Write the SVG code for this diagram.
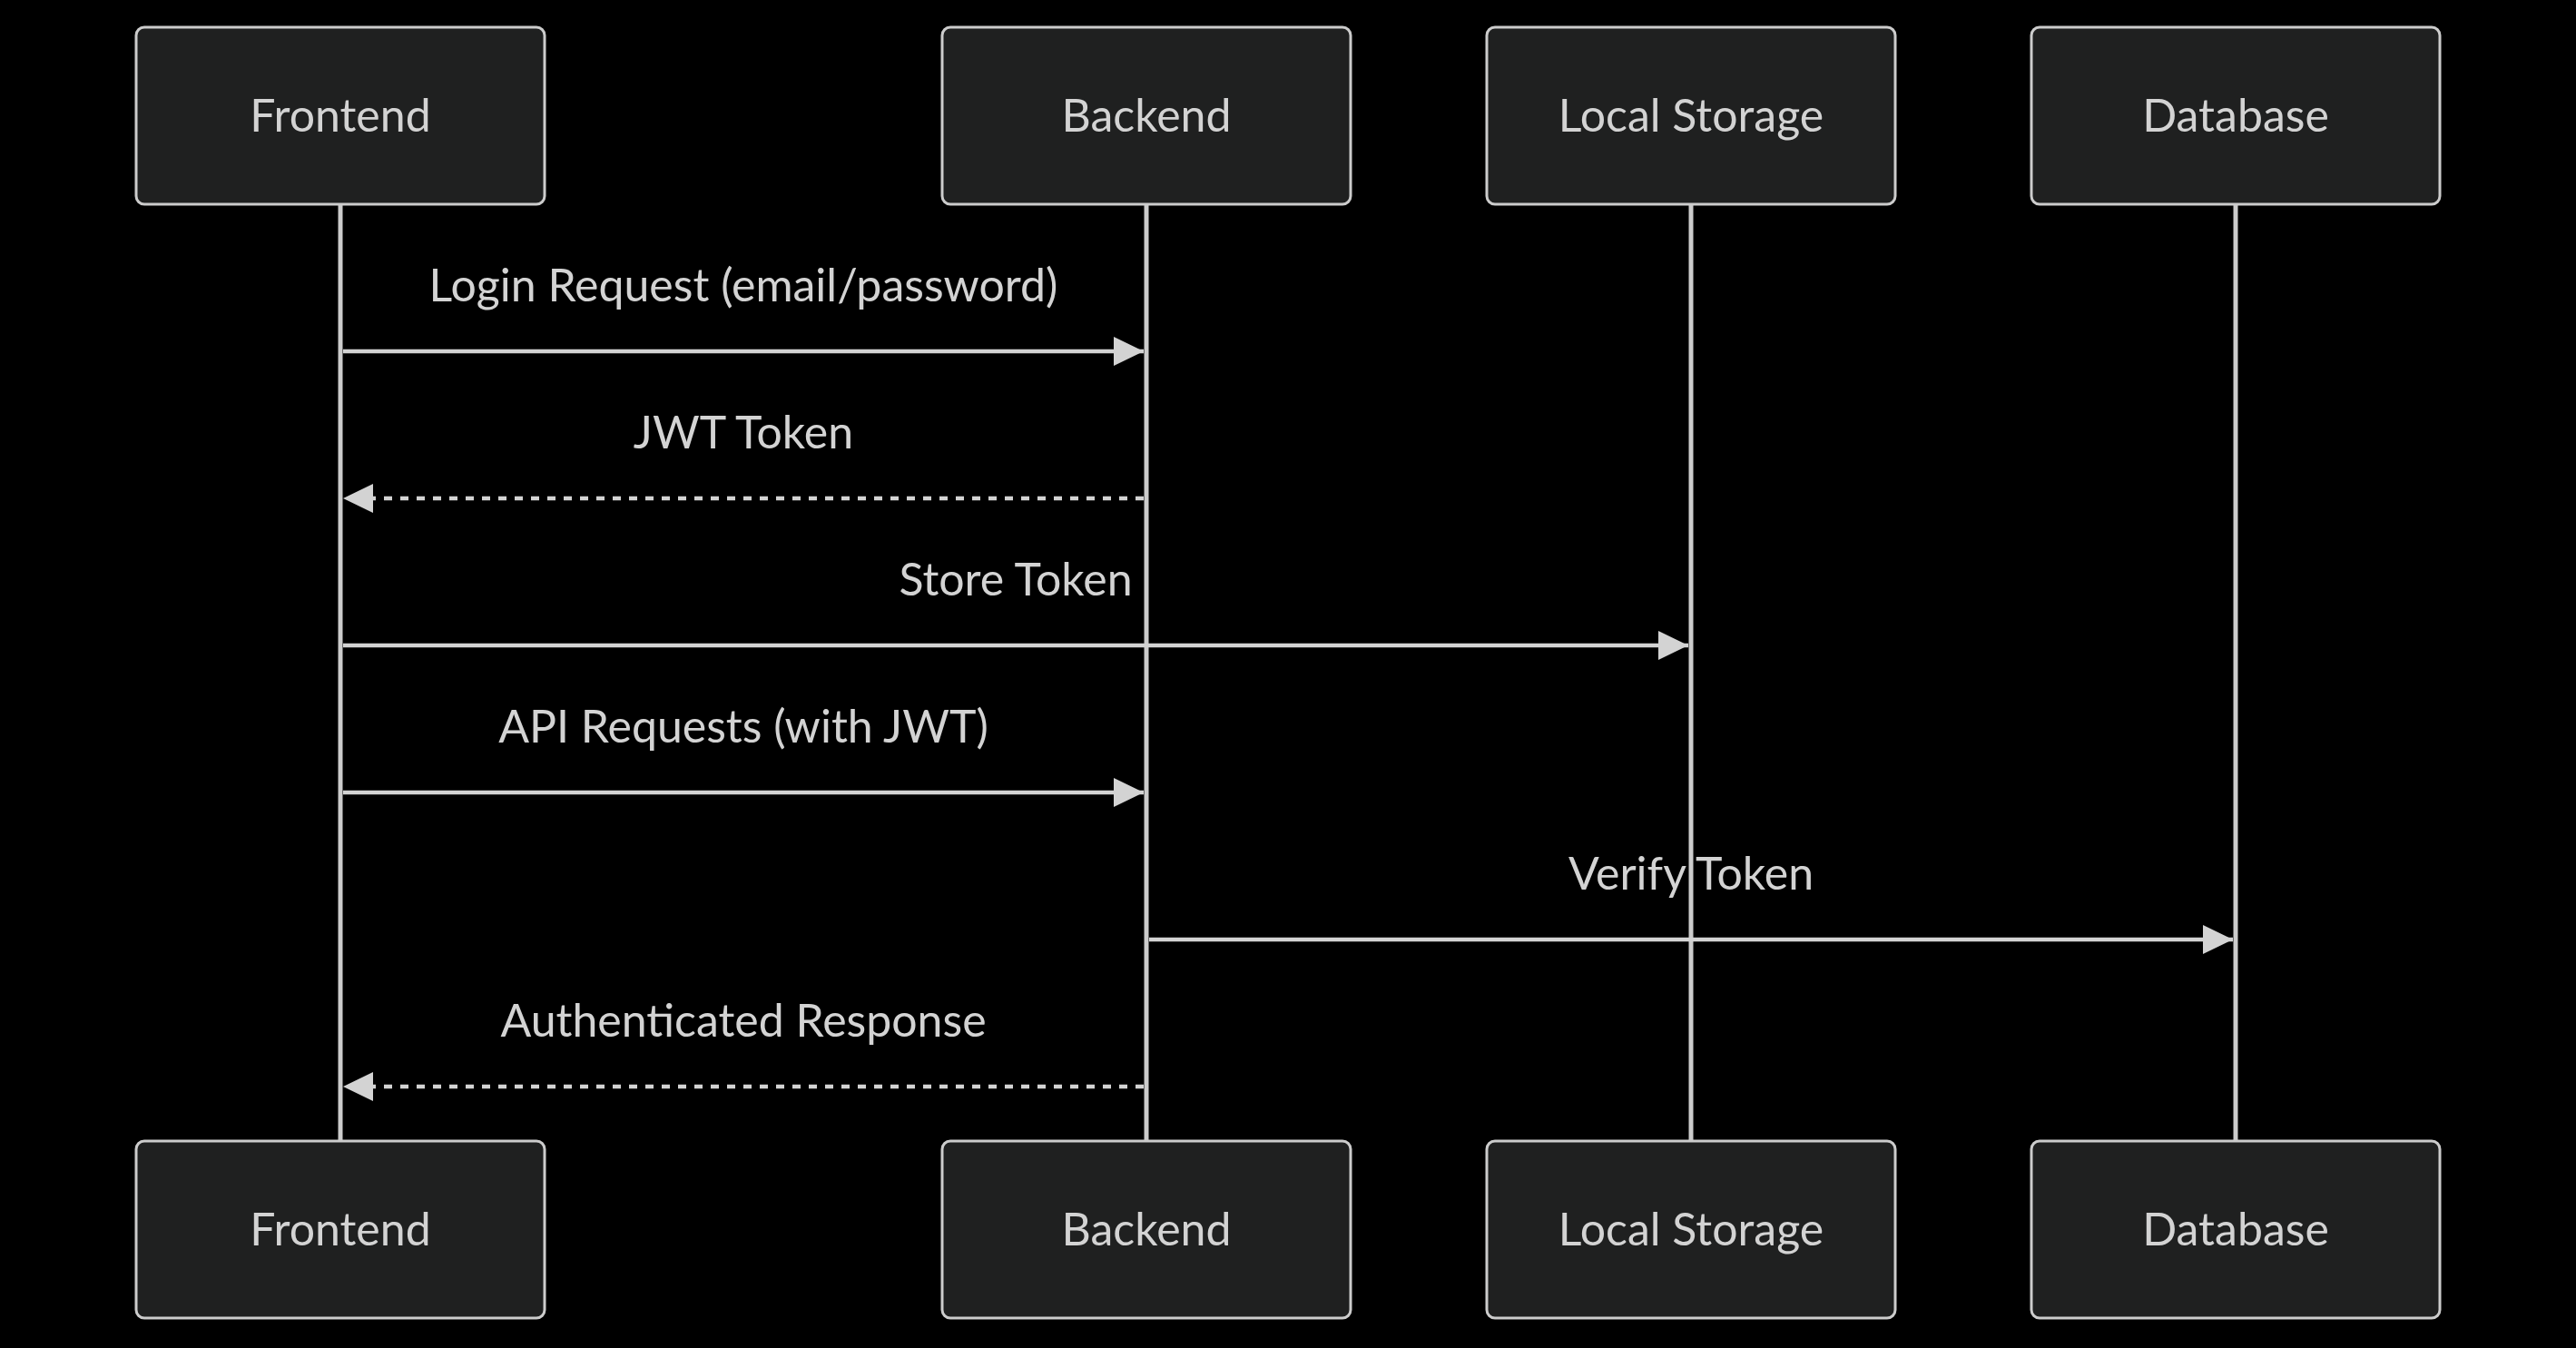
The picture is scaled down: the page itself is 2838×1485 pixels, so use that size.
<svg xmlns="http://www.w3.org/2000/svg" width="2838" height="1485" viewBox="0 0 2838 1485">
<style>
.bg{fill:#000}
.actor{fill:#1f2020;stroke:#cccccc;stroke-width:3}
.atext{font-family:Lato,"Open Sans",sans-serif;font-size:50px;fill:#d3d3d3;text-anchor:middle}
.life{stroke:#cccccc;stroke-width:5}
.msg{stroke:#d3d3d3;stroke-width:4.5;fill:none}
.dash{stroke-dasharray:9 9}
.mtext{font-family:Lato,"Open Sans",sans-serif;font-size:50px;fill:#d3d3d3;text-anchor:middle}
</style>
<defs>
<marker id="ah" markerUnits="userSpaceOnUse" markerWidth="34" markerHeight="32" refX="33" refY="16" orient="auto">
<path d="M0,0 L33,16 L0,32 z" fill="#d3d3d3"/>
</marker>
</defs>
<rect class="bg" x="0" y="0" width="2838" height="1485"/>
<g id="lifelines">
<line class="life" x1="375" y1="225" x2="375" y2="1257"/>
<line class="life" x1="1263" y1="225" x2="1263" y2="1257"/>
<line class="life" x1="1863" y1="225" x2="1863" y2="1257"/>
<line class="life" x1="2463" y1="225" x2="2463" y2="1257"/>
</g>
<g id="frontend-top"><rect class="actor" x="150" y="30" width="450" height="195" rx="9"/><text class="atext" x="375" y="145">Frontend</text></g>
<g id="backend-top"><rect class="actor" x="1038" y="30" width="450" height="195" rx="9"/><text class="atext" x="1263" y="145">Backend</text></g>
<g id="localstorage-top"><rect class="actor" x="1638" y="30" width="450" height="195" rx="9"/><text class="atext" x="1863" y="145">Local Storage</text></g>
<g id="database-top"><rect class="actor" x="2238" y="30" width="450" height="195" rx="9"/><text class="atext" x="2463" y="145">Database</text></g>
<g id="frontend-bottom"><rect class="actor" x="150" y="1257" width="450" height="195" rx="9"/><text class="atext" x="375" y="1372">Frontend</text></g>
<g id="backend-bottom"><rect class="actor" x="1038" y="1257" width="450" height="195" rx="9"/><text class="atext" x="1263" y="1372">Backend</text></g>
<g id="localstorage-bottom"><rect class="actor" x="1638" y="1257" width="450" height="195" rx="9"/><text class="atext" x="1863" y="1372">Local Storage</text></g>
<g id="database-bottom"><rect class="actor" x="2238" y="1257" width="450" height="195" rx="9"/><text class="atext" x="2463" y="1372">Database</text></g>
<g id="connectors">
<line class="msg" x1="378" y1="387" x2="1260" y2="387" marker-end="url(#ah)"/>
<text class="mtext" x="819" y="332">Login Request (email/password)</text>
<line class="msg dash" x1="1260" y1="549" x2="378" y2="549" marker-end="url(#ah)"/>
<text class="mtext" x="819" y="494">JWT Token</text>
<line class="msg" x1="378" y1="711" x2="1860" y2="711" marker-end="url(#ah)"/>
<text class="mtext" x="1119" y="656">Store Token</text>
<line class="msg" x1="378" y1="873" x2="1260" y2="873" marker-end="url(#ah)"/>
<text class="mtext" x="819" y="818">API Requests (with JWT)</text>
<line class="msg" x1="1266" y1="1035" x2="2460" y2="1035" marker-end="url(#ah)"/>
<text class="mtext" x="1863" y="980">Verify Token</text>
<line class="msg dash" x1="1260" y1="1197" x2="378" y2="1197" marker-end="url(#ah)"/>
<text class="mtext" x="819" y="1142">Authenticated Response</text>
</g>
</svg>
